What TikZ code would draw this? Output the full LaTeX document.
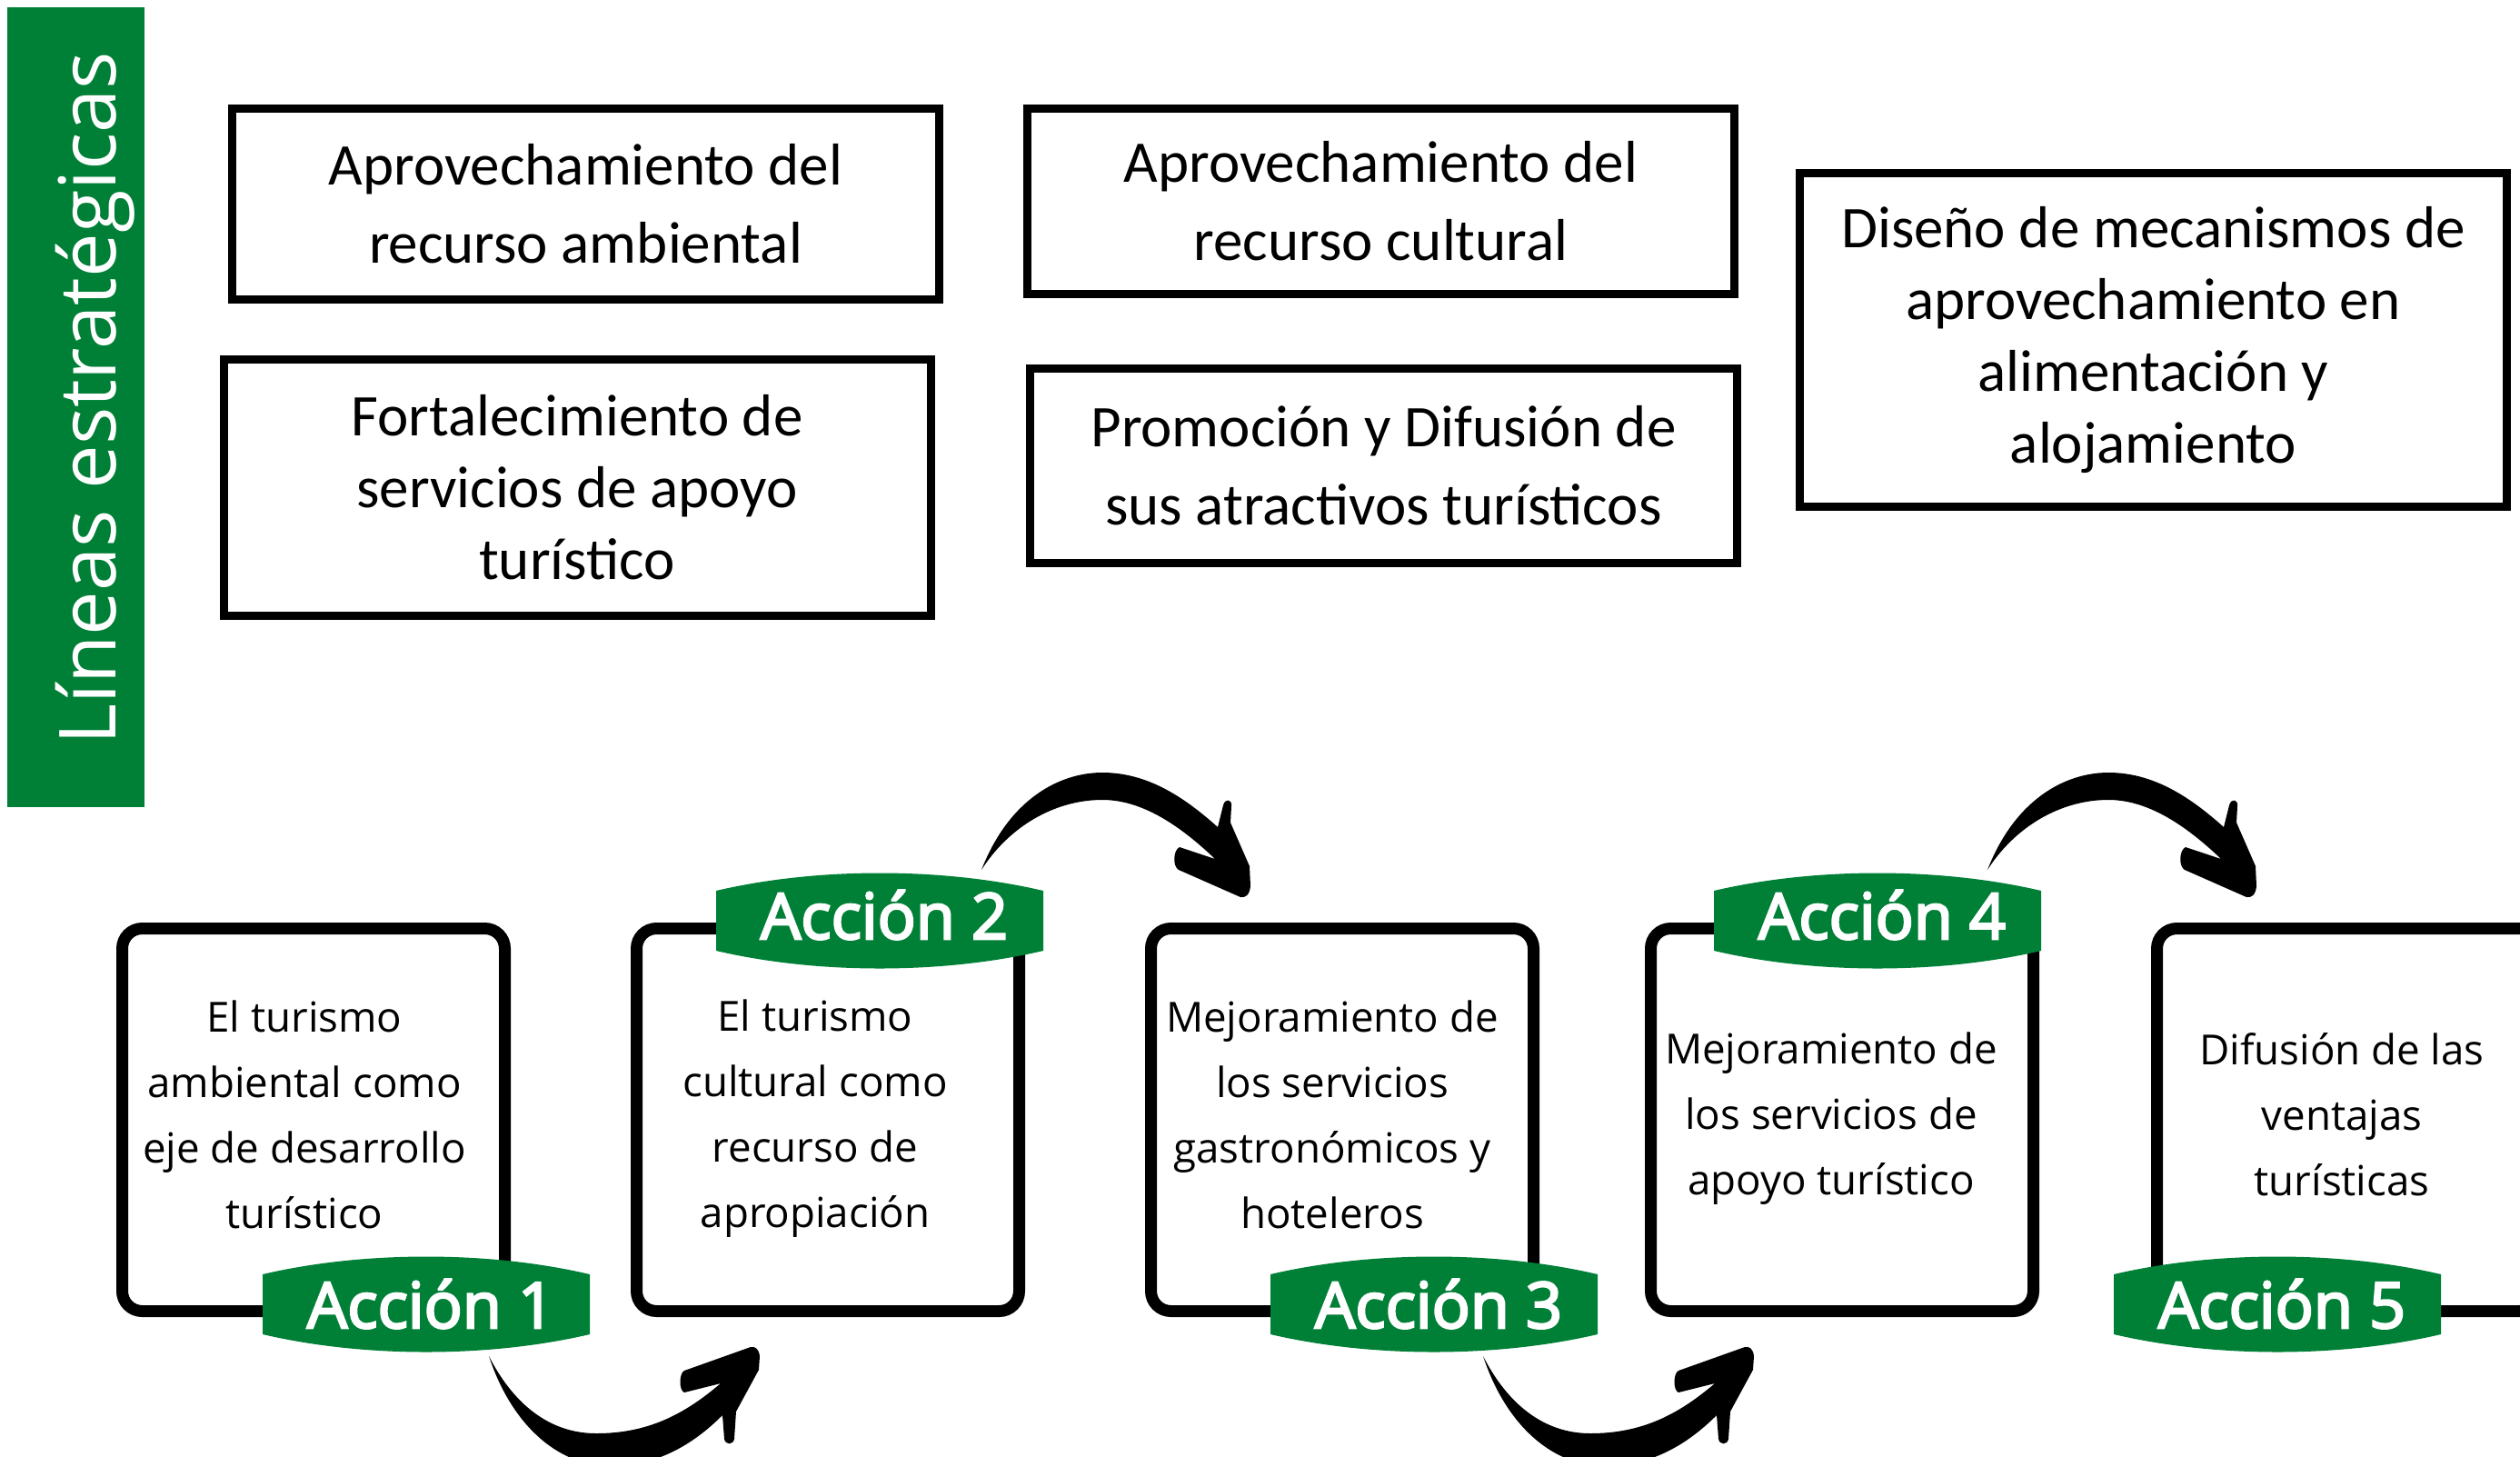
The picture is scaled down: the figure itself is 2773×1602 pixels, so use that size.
\documentclass[tikz,border=0pt]{standalone}
\usepackage{fontspec}
\setmainfont{Open Sans}
\newfontfamily\calib{Carlito}
\newcommand\semitext[1]{\special{pdf:literal direct 2 Tr 0.75 w}#1\special{pdf:literal direct 0 Tr}}
\definecolor{cgreen}{RGB}{0,128,55}
\newcommand\mybadge[5]{%
  \begin{scope}[shift={(#2,#3)}]
    \fill[badgefill] (-180,-33) .. controls (-69,-59) and (69,-59) .. (180,-33)
      -- (180,33) .. controls (69,59) and (-69,59) .. (-180,33) -- cycle;
    \node[badgetext] (#1) at (5,#5) {\semitext{#4}};
  \end{scope}}
\newcommand\lowarrow[1]{%
  \begin{scope}[shift={(#1,0)}]
    \fill[bigarrow] (538,1492) .. controls (562,1565) and (612,1613) .. (672,1613)
      .. controls (722,1613) and (762,1590) .. (795,1557)
      -- (797,1583) .. controls (798,1590) and (807,1590) .. (808,1583)
      -- (810,1553) -- (835,1507) -- (836,1492)
      .. controls (835,1484) and (831,1481) .. (826,1482)
      -- (753,1508) .. controls (747,1511) and (747,1530) .. (753,1532)
      -- (793,1522) .. controls (752,1557) and (712,1577) .. (656,1577)
      .. controls (605,1577) and (565,1545) .. (538,1492) -- cycle;
  \end{scope}}
\newcommand\higharrow[1]{%
  \begin{scope}[shift={(#1,0)}]
    \fill[bigarrow] (1080,957) .. controls (1110,880) and (1165,850) .. (1213,850)
      .. controls (1262,850) and (1302,876) .. (1340,910)
      -- (1346,886) .. controls (1348,878) and (1356,879) .. (1355,887)
      -- (1354,905) -- (1375,953) -- (1376,975)
      .. controls (1375,985) and (1370,988) .. (1365,987)
      -- (1297,957) .. controls (1290,953) and (1291,935) .. (1298,932)
      -- (1337,945) .. controls (1290,900) and (1250,880) .. (1213,880)
      .. controls (1160,880) and (1110,910) .. (1080,957) -- cycle;
  \end{scope}}
\begin{document}
\begin{tikzpicture}[x=0.3pt,y=-0.3pt,
  linebox/.style={draw=black, line width=2.7pt, minimum width=233.4pt, inner sep=0pt,
    align=center, font=\calib\fontsize{19.5pt}{25.8pt}\selectfont},
  actbox/.style={draw=black, fill=white, line width=3.9pt, rounded corners=6.6pt,
    minimum width=126.3pt, minimum height=126.3pt, inner sep=0pt},
  acttext/.style={align=center, inner sep=0pt, font=\fontsize{13.7pt}{21.6pt}\selectfont},
  badgetext/.style={text=white, font=\fontsize{21pt}{24pt}\selectfont,
    anchor=base, inner sep=0pt},
  badgefill/.style={fill=cgreen},
  bigarrow/.style={fill=black}
]
\clip (0,0) rectangle (2773,1602);
\fill[white] (0,0) rectangle (2773,1602);

% title bar
\node[fill=cgreen, minimum width=45.3pt, minimum height=264pt, inner sep=0pt] (bar) at (83.5,448) {};
\node[rotate=90, anchor=base, text=white, inner sep=0pt,
  font=\fontsize{26pt}{30pt}\selectfont] (title) at (127,438) {Líneas estratégicas};

% strategic lines
\node[linebox, minimum height=63pt] (la) at (644.5,224) {Aprovechamiento del\\recurso ambiental};
\node[linebox, minimum height=84.6pt, font=\calib\fontsize{19.5pt}{23.7pt}\selectfont] (lb) at (635,536) {Fortalecimiento de\\servicios de apoyo\\turístico};
\node[linebox, minimum height=61.2pt] (lc) at (1519.5,221) {Aprovechamiento del\\recurso cultural};
\node[linebox, minimum height=64.2pt] (ld) at (1522.5,512) {Promoción y Difusión de\\sus atractivos turísticos};
\node[linebox, minimum height=110.1pt, font=\calib\fontsize{19.5pt}{23.7pt}\selectfont] (le) at (2369.5,373.5) {Diseño de mecanismos de\\aprovechamiento en\\alimentación y\\alojamiento};

% action boxes
\node[actbox] (b1) at (345,1232) {};
\node[actbox] (b2) at (911,1232) {};
\node[actbox] (b3) at (1477,1232) {};
\node[actbox] (b4) at (2027,1232) {};
\node[actbox] (b5) at (2584,1232) {};

\node[acttext] (t1) at (335,1226) {El turismo\\ambiental como\\eje de desarrollo\\turístico};
\node[acttext] (t2) at (897,1231) {El turismo\\cultural como\\recurso de\\apropiación};
\node[acttext] (t3) at (1466,1226) {Mejoramiento de\\los servicios\\gastronómicos y\\hoteleros};
\node[acttext] (t4) at (2015,1231) {Mejoramiento de\\los servicios de\\apoyo turístico};
\node[acttext] (t5) at (2577,1226) {Difusión de las\\ventajas\\turísticas};

% badges
\mybadge{a1}{469}{1435}{Acción 1}{26}
\mybadge{a2}{968}{1013}{Acción 2}{20}
\mybadge{a3}{1578}{1435}{Acción 3}{26}
\mybadge{a4}{2066}{1013}{Acción 4}{20}
\mybadge{a5}{2506}{1435}{Acción 5}{26}

% arrows
\lowarrow{0}
\higharrow{0}
\lowarrow{1094}
\higharrow{1107}
\end{tikzpicture}
\end{document}
